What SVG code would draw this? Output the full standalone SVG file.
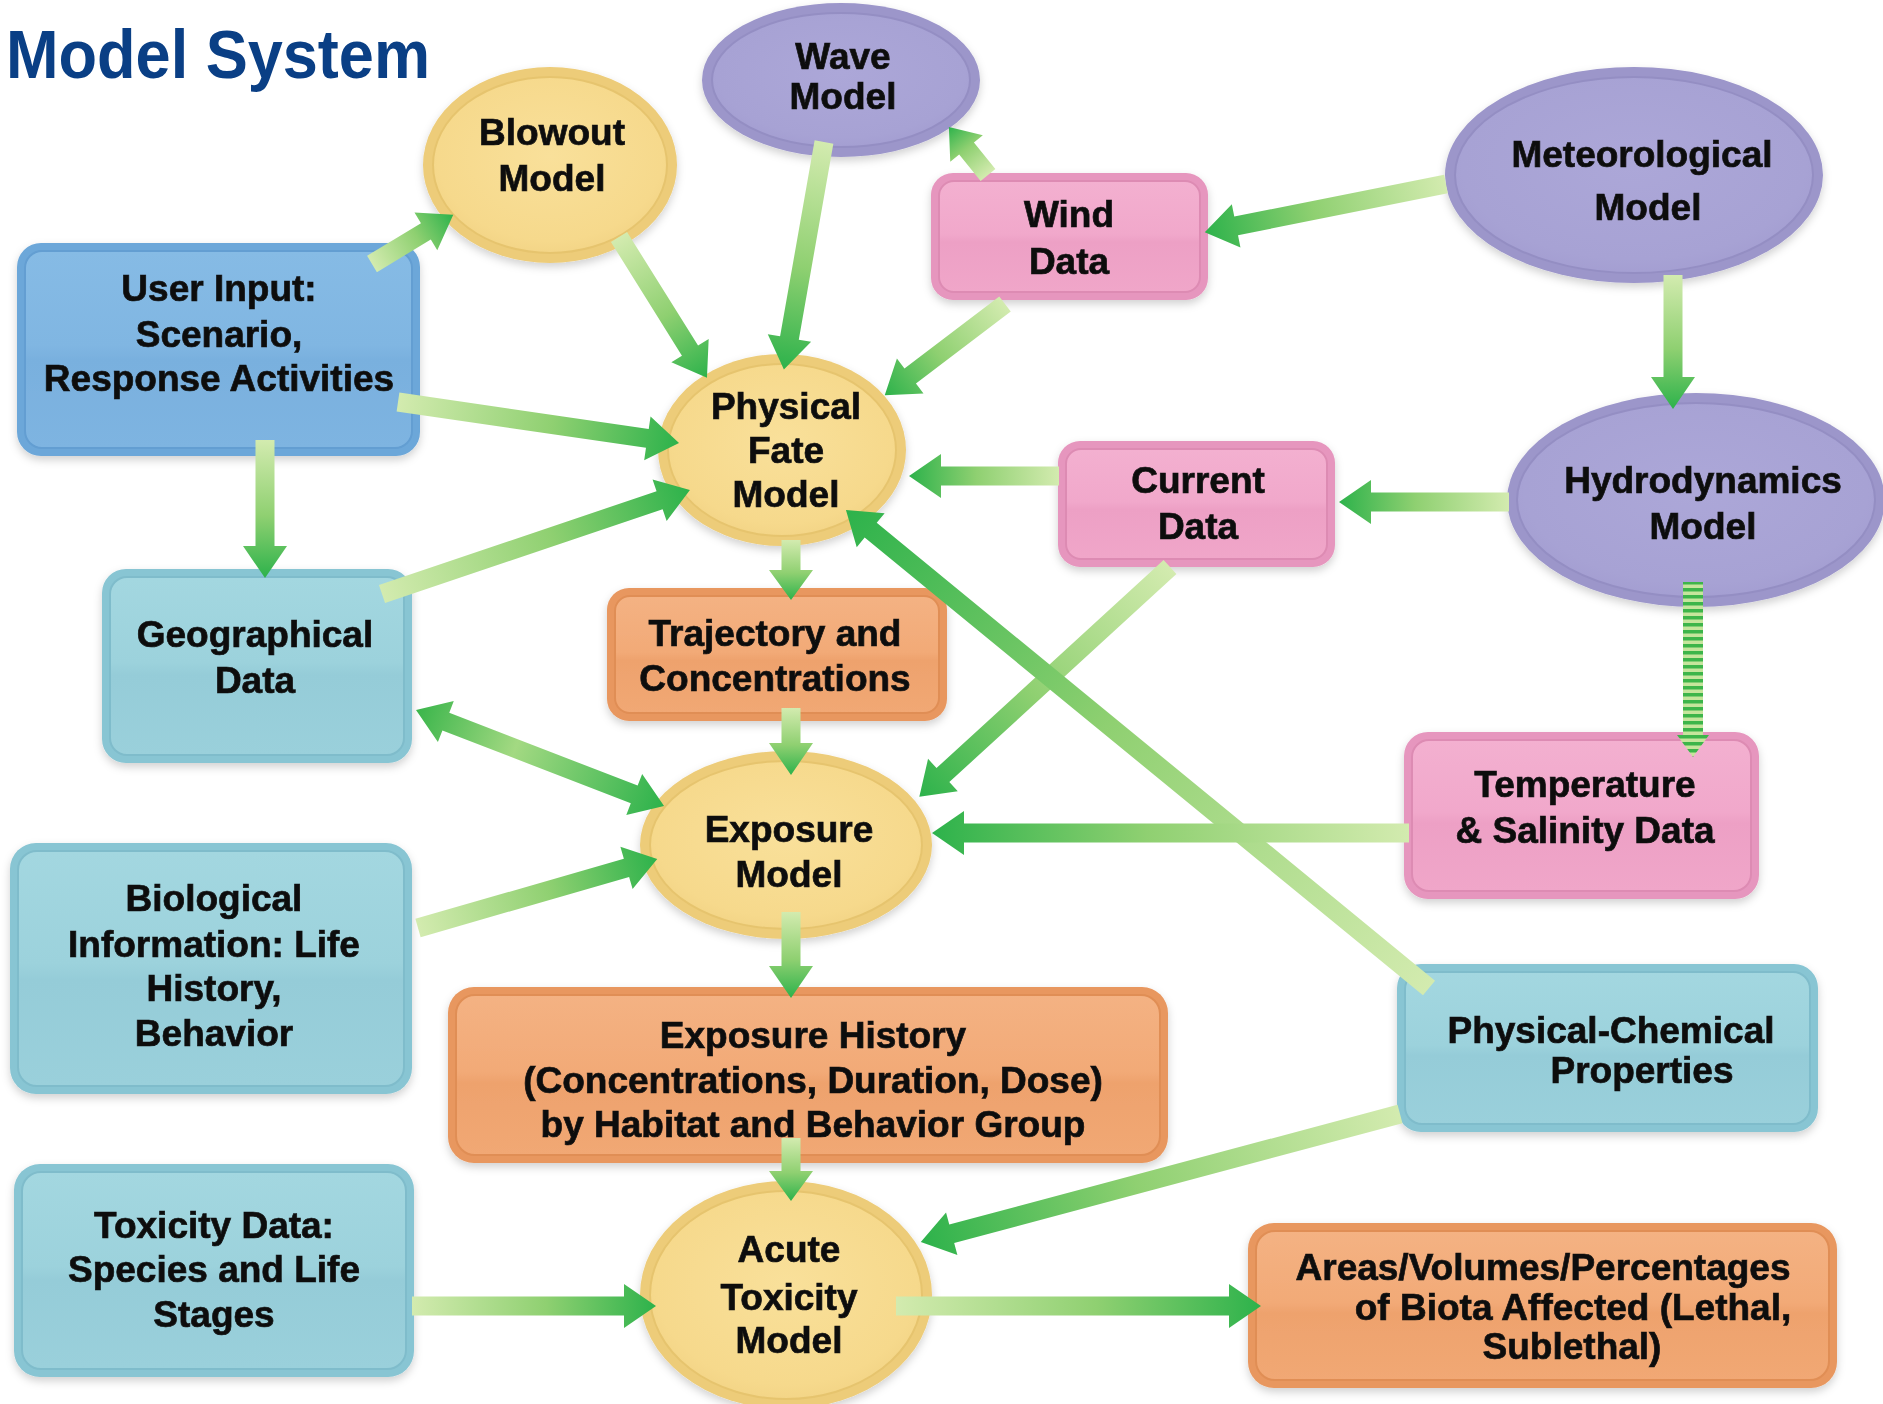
<svg xmlns="http://www.w3.org/2000/svg" width="1883" height="1404" viewBox="0 0 1883 1404">
  <defs>
    <style>
      .lbl { font-family: "Liberation Sans", Arial, sans-serif; font-weight: bold; font-size: 37px; fill: #111; stroke: #111; stroke-width: 0.7px; text-anchor: middle; }
      .title { font-family: "Liberation Sans", Arial, sans-serif; font-weight: bold; font-size: 68px; fill: #0A3F85; }
      .node { filter: url(#shadow); }
      .yel-o { fill: #EDCC79; } .yel-i { fill: url(#gYel); stroke: #E6C46E; stroke-width: 2; }
      .pur-o { fill: #9C96CA; } .pur-i { fill: url(#gPur); stroke: #948EC3; stroke-width: 2; }
      .pnk-o { fill: #E696BE; } .pnk-i { fill: url(#gPnk); stroke: #DD8BB3; stroke-width: 2; }
      .blu-o { fill: #6CA7D9; } .blu-i { fill: url(#gBlu); stroke: #639ED2; stroke-width: 2; }
      .tea-o { fill: #88C5D3; } .tea-i { fill: url(#gTea); stroke: #7FBCCB; stroke-width: 2; }
      .orn-o { fill: #E8975F; } .orn-i { fill: url(#gOrn); stroke: #E08E55; stroke-width: 2; }
      .arr { fill: url(#gArr); }
      .arr2 { fill: url(#gArr2); }
    </style>
    <filter id="shadow" x="-10%" y="-10%" width="120%" height="130%">
      <feDropShadow dx="0" dy="4" stdDeviation="4" flood-color="#000" flood-opacity="0.18"/>
    </filter>
    <radialGradient id="gYel" cx="0.5" cy="0.45" r="0.6">
      <stop offset="0" stop-color="#F9E09A"/>
      <stop offset="0.8" stop-color="#F6D98C"/>
      <stop offset="1" stop-color="#F1D283"/>
    </radialGradient>
    <radialGradient id="gPur" cx="0.5" cy="0.45" r="0.6">
      <stop offset="0" stop-color="#ACA7D8"/>
      <stop offset="0.8" stop-color="#A7A2D4"/>
      <stop offset="1" stop-color="#A29CD0"/>
    </radialGradient>
    <linearGradient id="gPnk" x1="0" y1="0" x2="0" y2="1">
      <stop offset="0" stop-color="#F3B0D0"/>
      <stop offset="0.48" stop-color="#F1A8CB"/>
      <stop offset="0.55" stop-color="#EDA0C5"/>
      <stop offset="1" stop-color="#F0A6C9"/>
    </linearGradient>
    <linearGradient id="gBlu" x1="0" y1="0" x2="0" y2="1">
      <stop offset="0" stop-color="#86BBE5"/>
      <stop offset="0.48" stop-color="#80B6E2"/>
      <stop offset="0.55" stop-color="#79B0DE"/>
      <stop offset="1" stop-color="#7EB4E1"/>
    </linearGradient>
    <linearGradient id="gTea" x1="0" y1="0" x2="0" y2="1">
      <stop offset="0" stop-color="#A3D7E0"/>
      <stop offset="0.48" stop-color="#9CD2DC"/>
      <stop offset="0.55" stop-color="#95CCD8"/>
      <stop offset="1" stop-color="#9AD0DB"/>
    </linearGradient>
    <linearGradient id="gOrn" x1="0" y1="0" x2="0" y2="1">
      <stop offset="0" stop-color="#F4B283"/>
      <stop offset="0.48" stop-color="#F2AA77"/>
      <stop offset="0.55" stop-color="#EEA26D"/>
      <stop offset="1" stop-color="#F1A874"/>
    </linearGradient>
    <linearGradient id="gArr" x1="0" y1="0" x2="1" y2="0">
      <stop offset="0" stop-color="#D3EBAF"/>
      <stop offset="0.55" stop-color="#8FD071"/>
      <stop offset="1" stop-color="#2DB24B"/>
    </linearGradient>
    <linearGradient id="gArr2" x1="0" y1="0" x2="1" y2="0">
      <stop offset="0" stop-color="#3AB54B"/>
      <stop offset="0.4" stop-color="#A3D982"/>
      <stop offset="1" stop-color="#2DB24B"/>
    </linearGradient>
    <pattern id="stripes" patternUnits="userSpaceOnUse" x="0" y="0" width="40" height="7">
      <rect x="0" y="0" width="40" height="7" fill="#C6E59C"/>
      <rect x="0" y="0" width="40" height="3.5" fill="#3DB54A"/>
    </pattern>
  </defs>

  <rect x="0" y="0" width="1883" height="1404" fill="#FFFFFF"/>

  <text class="title" x="6" y="78" textLength="424" lengthAdjust="spacingAndGlyphs">Model System</text>

  <!-- models (ellipses) -->
  <g id="blowout-model" class="node">
    <ellipse class="yel-o" cx="550" cy="165" rx="127" ry="98"/>
    <ellipse class="yel-i" cx="550" cy="165" rx="117" ry="88"/>
    <text class="lbl"><tspan x="552" y="145">Blowout</tspan><tspan x="552" y="191">Model</tspan></text>
  </g>

  <g id="wave-model" class="node">
    <ellipse class="pur-o" cx="841" cy="80" rx="139" ry="77"/>
    <ellipse class="pur-i" cx="841" cy="80" rx="129" ry="67"/>
    <text class="lbl"><tspan x="843" y="69">Wave</tspan><tspan x="843" y="109">Model</tspan></text>
  </g>

  <g id="meteorological-model" class="node">
    <ellipse class="pur-o" cx="1634" cy="175" rx="189" ry="108"/>
    <ellipse class="pur-i" cx="1634" cy="175" rx="179" ry="98"/>
    <text class="lbl"><tspan x="1642" y="167">Meteorological</tspan><tspan x="1648" y="220">Model</tspan></text>
  </g>

  <g id="physical-fate-model" class="node">
    <ellipse class="yel-o" cx="782" cy="450" rx="124" ry="96"/>
    <ellipse class="yel-i" cx="782" cy="450" rx="114" ry="86"/>
    <text class="lbl"><tspan x="786" y="419">Physical</tspan><tspan x="786" y="463">Fate</tspan><tspan x="786" y="507">Model</tspan></text>
  </g>

  <g id="hydrodynamics-model" class="node">
    <ellipse class="pur-o" cx="1696" cy="500" rx="189" ry="107"/>
    <ellipse class="pur-i" cx="1696" cy="500" rx="179" ry="97"/>
    <text class="lbl"><tspan x="1703" y="493">Hydrodynamics</tspan><tspan x="1703" y="539">Model</tspan></text>
  </g>

  <g id="exposure-model" class="node">
    <ellipse class="yel-o" cx="786" cy="845" rx="146" ry="94"/>
    <ellipse class="yel-i" cx="786" cy="845" rx="136" ry="84"/>
    <text class="lbl"><tspan x="789" y="842">Exposure</tspan><tspan x="789" y="887">Model</tspan></text>
  </g>

  <g id="acute-toxicity-model" class="node">
    <ellipse class="yel-o" cx="786" cy="1295" rx="146" ry="114"/>
    <ellipse class="yel-i" cx="786" cy="1295" rx="136" ry="104"/>
    <text class="lbl"><tspan x="789" y="1262">Acute</tspan><tspan x="789" y="1310">Toxicity</tspan><tspan x="789" y="1353">Model</tspan></text>
  </g>

  <!-- data and input boxes -->
  <g id="wind-data" class="node">
    <rect class="pnk-o" x="931" y="173" width="277" height="127" rx="22"/>
    <rect class="pnk-i" x="939" y="181" width="261" height="111" rx="15"/>
    <text class="lbl"><tspan x="1069" y="227">Wind</tspan><tspan x="1069" y="274">Data</tspan></text>
  </g>

  <g id="user-input" class="node">
    <rect class="blu-o" x="17" y="243" width="403" height="213" rx="24"/>
    <rect class="blu-i" x="25" y="251" width="387" height="197" rx="17"/>
    <text class="lbl"><tspan x="219" y="301">User Input:</tspan><tspan x="219" y="347">Scenario,</tspan><tspan x="219" y="391">Response Activities</tspan></text>
  </g>

  <g id="current-data" class="node">
    <rect class="pnk-o" x="1058" y="441" width="277" height="126" rx="22"/>
    <rect class="pnk-i" x="1066" y="449" width="261" height="110" rx="15"/>
    <text class="lbl"><tspan x="1198" y="493">Current</tspan><tspan x="1198" y="539">Data</tspan></text>
  </g>

  <g id="geographical-data" class="node">
    <rect class="tea-o" x="102" y="569" width="310" height="194" rx="24"/>
    <rect class="tea-i" x="110" y="577" width="294" height="178" rx="17"/>
    <text class="lbl"><tspan x="255" y="647">Geographical</tspan><tspan x="255" y="693">Data</tspan></text>
  </g>

  <g id="trajectory-concentrations" class="node">
    <rect class="orn-o" x="607" y="588" width="340" height="133" rx="22"/>
    <rect class="orn-i" x="615" y="596" width="324" height="117" rx="15"/>
    <text class="lbl"><tspan x="775" y="646">Trajectory and</tspan><tspan x="775" y="691">Concentrations</tspan></text>
  </g>

  <g id="temperature-salinity-data" class="node">
    <rect class="pnk-o" x="1404" y="732" width="355" height="167" rx="24"/>
    <rect class="pnk-i" x="1412" y="740" width="339" height="151" rx="17"/>
    <text class="lbl"><tspan x="1585" y="797">Temperature</tspan><tspan x="1585" y="843">&amp; Salinity Data</tspan></text>
  </g>

  <g id="biological-information" class="node">
    <rect class="tea-o" x="10" y="843" width="402" height="251" rx="26"/>
    <rect class="tea-i" x="18" y="851" width="386" height="235" rx="19"/>
    <text class="lbl"><tspan x="214" y="911">Biological</tspan><tspan x="214" y="957">Information: Life</tspan><tspan x="214" y="1001">History,</tspan><tspan x="214" y="1046">Behavior</tspan></text>
  </g>

  <g id="exposure-history" class="node">
    <rect class="orn-o" x="448" y="987" width="720" height="176" rx="26"/>
    <rect class="orn-i" x="456" y="995" width="704" height="160" rx="19"/>
    <text class="lbl"><tspan x="813" y="1048">Exposure History</tspan><tspan x="813" y="1093">(Concentrations, Duration, Dose)</tspan><tspan x="813" y="1137">by Habitat and Behavior Group</tspan></text>
  </g>

  <g id="physical-chemical-properties" class="node">
    <rect class="tea-o" x="1397" y="964" width="421" height="168" rx="24"/>
    <rect class="tea-i" x="1405" y="972" width="405" height="152" rx="17"/>
    <text class="lbl"><tspan x="1611" y="1043">Physical-Chemical</tspan><tspan x="1642" y="1083">Properties</tspan></text>
  </g>

  <g id="toxicity-data" class="node">
    <rect class="tea-o" x="14" y="1164" width="400" height="213" rx="26"/>
    <rect class="tea-i" x="22" y="1172" width="384" height="197" rx="19"/>
    <text class="lbl"><tspan x="214" y="1238">Toxicity Data:</tspan><tspan x="214" y="1282">Species and Life</tspan><tspan x="214" y="1327">Stages</tspan></text>
  </g>

  <g id="biota-affected" class="node">
    <rect class="orn-o" x="1248" y="1223" width="589" height="165" rx="26"/>
    <rect class="orn-i" x="1256" y="1231" width="573" height="149" rx="19"/>
    <text class="lbl"><tspan x="1543" y="1280">Areas/Volumes/Percentages</tspan><tspan x="1573" y="1320">of Biota Affected (Lethal,</tspan><tspan x="1572" y="1359">Sublethal)</tspan></text>
  </g>

  <!-- block arrows: each drawn along +x from its tail, then placed -->
  <g id="connectors">
    <path class="arr" transform="translate(372,264) rotate(-31.2)" d="M0,-9.5 H63 V-22 L95,0 L63,22 V9.5 H0 Z"/>
    <path class="arr" transform="translate(619,237) rotate(58)" d="M0,-9.5 H134 V-22 L166,0 L134,22 V9.5 H0 Z"/>
    <path class="arr" transform="translate(824,142) rotate(100)" d="M0,-9.5 H199 V-22 L231,0 L199,22 V9.5 H0 Z"/>
    <path class="arr" transform="translate(988,175) rotate(-129.1)" d="M0,-9.5 H34 V-21 L62,0 L34,21 V9.5 H0 Z"/>
    <path class="arr" transform="translate(1446,184) rotate(168.7)" d="M0,-9.5 H214 V-22 L246,0 L214,22 V9.5 H0 Z"/>
    <path class="arr" transform="translate(1005,304) rotate(142.8)" d="M0,-9.5 H119 V-22 L151,0 L119,22 V9.5 H0 Z"/>
    <path class="arr" transform="translate(398,402) rotate(8.3)" d="M0,-9.5 H252 V-22 L284,0 L252,22 V9.5 H0 Z"/>
    <path class="arr" transform="translate(265,440) rotate(90)" d="M0,-9.5 H106 V-22 L138,0 L106,22 V9.5 H0 Z"/>
    <path class="arr" transform="translate(382,594) rotate(-18.66)" d="M0,-9.5 H293 V-22 L325,0 L293,22 V9.5 H0 Z"/>
    <path class="arr" transform="translate(1059,476) rotate(180)" d="M0,-9.5 H118 V-22 L150,0 L118,22 V9.5 H0 Z"/>
    <path class="arr" transform="translate(1509,502) rotate(180)" d="M0,-9.5 H138 V-22 L170,0 L138,22 V9.5 H0 Z"/>
    <path class="arr" transform="translate(1673,275) rotate(90)" d="M0,-9.5 H102 V-22 L134,0 L102,22 V9.5 H0 Z"/>
    <path fill="url(#stripes)" d="M1683,582 H1703 V735 H1709 L1693,757 L1677,735 H1683 Z"/>
    <path class="arr" transform="translate(791,540) rotate(90)" d="M0,-9.5 H30 V-22 L60,0 L30,22 V9.5 H0 Z"/>
    <path class="arr" transform="translate(791,708) rotate(90)" d="M0,-9.5 H35 V-22 L67,0 L35,22 V9.5 H0 Z"/>
    <path class="arr2" transform="translate(416,710) rotate(21.16)" d="M0,0 L32,-22 V-9.5 H234 V-22 L266,0 L234,22 V9.5 H32 V22 Z"/>
    <path class="arr" transform="translate(1170,567) rotate(137.5)" d="M0,-9.5 H308 V-22 L340,0 L308,22 V9.5 H0 Z"/>
    <path class="arr" transform="translate(1429,988) rotate(-140.65)" d="M0,-9.5 H722 V-22 L754,0 L722,22 V9.5 H0 Z"/>
    <path class="arr" transform="translate(1409,833) rotate(180)" d="M0,-9.5 H445 V-22 L477,0 L445,22 V9.5 H0 Z"/>
    <path class="arr" transform="translate(418,928) rotate(-16.1)" d="M0,-9.5 H217 V-22 L249,0 L217,22 V9.5 H0 Z"/>
    <path class="arr" transform="translate(791,912) rotate(90)" d="M0,-9.5 H54 V-22 L86,0 L54,22 V9.5 H0 Z"/>
    <path class="arr" transform="translate(791,1138) rotate(90)" d="M0,-9.5 H33 V-22 L63,0 L33,22 V9.5 H0 Z"/>
    <path class="arr" transform="translate(1400,1114) rotate(165.04)" d="M0,-9.5 H464 V-22 L496,0 L464,22 V9.5 H0 Z"/>
    <path class="arr" transform="translate(412,1306)" d="M0,-9.5 H212 V-22 L244,0 L212,22 V9.5 H0 Z"/>
    <path class="arr" transform="translate(896,1306)" d="M0,-9.5 H333 V-22 L365,0 L333,22 V9.5 H0 Z"/>
  </g>
</svg>
